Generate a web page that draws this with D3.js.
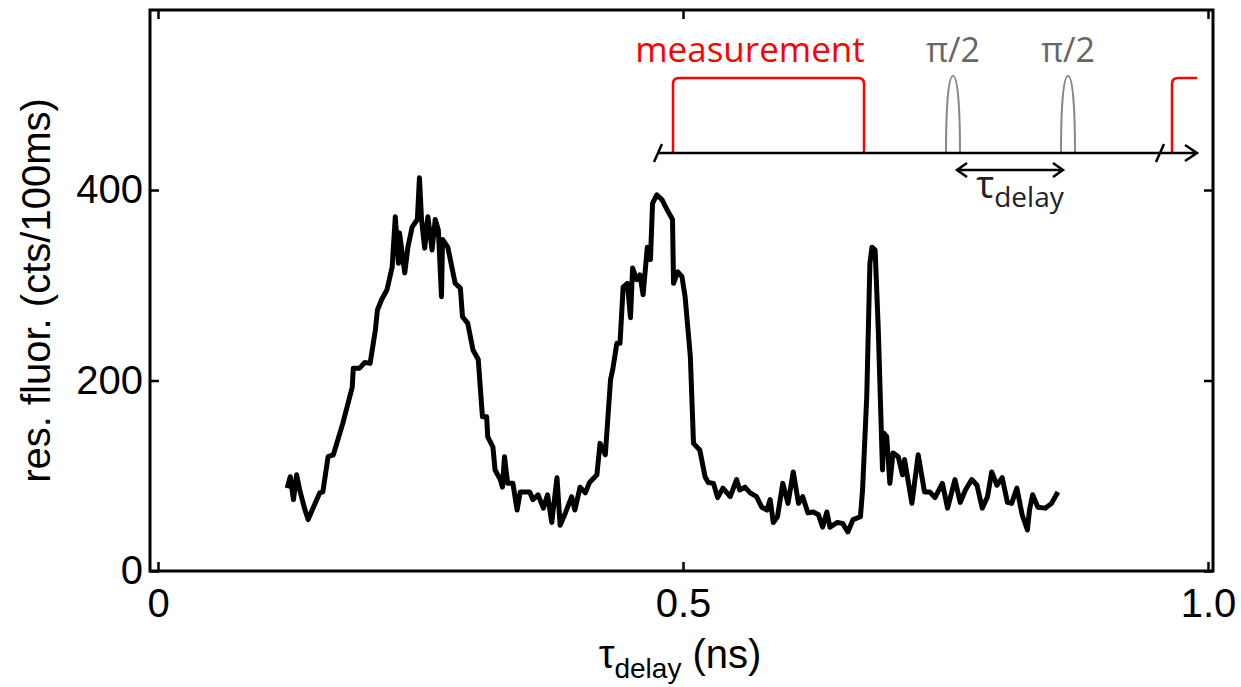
<!DOCTYPE html>
<html>
<head>
<meta charset="utf-8">
<script src="https://cdn.jsdelivr.net/npm/d3@7"></script>
<style>
  body { margin: 0; background: #fff; }
  svg { display: block; }
</style>
</head>
<body>
<div class="chart"></div>
<script>
// fluorescence vs. pulse delay
var delay = [0.123, 0.126, 0.129, 0.132, 0.135, 0.140, 0.143, 0.148, 0.154, 0.157, 0.162, 0.167, 0.176, 0.185, 0.186,
  0.192, 0.197, 0.202, 0.207, 0.209, 0.213, 0.218, 0.223, 0.226, 0.229, 0.230, 0.235, 0.238, 0.242, 0.247,
  0.249, 0.251, 0.254, 0.257, 0.261, 0.264, 0.267, 0.270, 0.271, 0.276, 0.283, 0.288, 0.290, 0.295, 0.300,
  0.305, 0.309, 0.313, 0.314, 0.319, 0.321, 0.326, 0.328, 0.330, 0.333, 0.338, 0.342, 0.345, 0.354, 0.357,
  0.362, 0.367, 0.371, 0.375, 0.380, 0.383, 0.388, 0.394, 0.397, 0.402, 0.407, 0.411, 0.418, 0.421, 0.426,
  0.431, 0.433, 0.437, 0.440, 0.443, 0.447, 0.450, 0.452, 0.456, 0.459, 0.462, 0.466, 0.469, 0.471, 0.475,
  0.480, 0.485, 0.490, 0.491, 0.495, 0.499, 0.502, 0.507, 0.510, 0.516, 0.521, 0.524, 0.529, 0.533, 0.538,
  0.545, 0.551, 0.554, 0.559, 0.564, 0.570, 0.575, 0.580, 0.583, 0.586, 0.590, 0.595, 0.600, 0.605, 0.610,
  0.614, 0.619, 0.624, 0.629, 0.633, 0.637, 0.640, 0.647, 0.652, 0.657, 0.662, 0.669, 0.671, 0.675, 0.678,
  0.680, 0.683, 0.686, 0.690, 0.691, 0.694, 0.697, 0.700, 0.705, 0.709, 0.711, 0.718, 0.724, 0.730, 0.735,
  0.740, 0.747, 0.752, 0.759, 0.764, 0.769, 0.775, 0.780, 0.785, 0.790, 0.794, 0.799, 0.804, 0.809, 0.813,
  0.818, 0.823, 0.828, 0.830, 0.833, 0.838, 0.845, 0.851, 0.857];
var fluor = [87, 99, 75, 101, 85, 64, 54, 67, 82, 83, 120, 122, 155, 193, 213,
  213, 219, 218, 253, 274, 285, 295, 319, 372, 323, 355, 313, 340, 361, 369,
  413, 369, 339, 372, 337, 369, 358, 288, 348, 340, 302, 297, 267, 260, 232,
  222, 162, 162, 141, 130, 106, 96, 88, 120, 92, 92, 64, 83, 83, 75,
  80, 66, 80, 51, 98, 48, 61, 78, 64, 88, 82, 93, 101, 134, 122,
  201, 211, 239, 239, 298, 302, 266, 318, 306, 311, 290, 340, 327, 386, 395,
  390, 379, 369, 302, 314, 309, 288, 225, 134, 127, 99, 93, 92, 77, 87,
  78, 96, 85, 88, 82, 78, 67, 64, 75, 51, 57, 92, 71, 104, 71,
  78, 61, 62, 59, 46, 62, 46, 51, 50, 41, 54, 57, 85, 183, 323,
  340, 337, 253, 106, 145, 141, 92, 124, 120, 101, 117, 71, 122, 83, 83,
  77, 92, 66, 96, 72, 85, 96, 90, 66, 78, 104, 90, 98, 72, 71,
  87, 59, 43, 64, 80, 67, 66, 71, 83];

var xTicks = [0, 0.5, 1.0];
var yTicks = [0, 200, 400];

var svgWidth = 1241;
var svgHeight = 687;
var frame = { left: 150, right: 1213, top: 10, bottom: 571 };

var svg = d3.select('.chart')
  .append('svg')
  .attr('width', svgWidth)
  .attr('height', svgHeight);

var xScale = d3.scaleLinear()
  .domain([0, 1])
  .range([158, 1208]);

var yScale = d3.scaleLinear()
  .domain([0, 589])
  .range([frame.bottom, frame.top]);

var tickFont = '"Liberation Sans", Arial, sans-serif';
var fmtX = function (d) { return d === 0 ? '0' : d.toFixed(1); };

// bottom axis with labels, ticks pointing in
var xAxis = svg.append('g')
  .attr('transform', 'translate(0,' + frame.bottom + ')')
  .call(d3.axisBottom(xScale).tickValues(xTicks).tickFormat(fmtX)
    .tickSizeInner(-9).tickSizeOuter(0).tickPadding(18));

var yAxis = svg.append('g')
  .attr('transform', 'translate(' + frame.left + ',0)')
  .call(d3.axisLeft(yScale).tickValues(yTicks)
    .tickSizeInner(-9).tickSizeOuter(0).tickPadding(7));

// mirrored ticks on top and right
var xTop = svg.append('g')
  .attr('transform', 'translate(0,' + frame.top + ')')
  .call(d3.axisTop(xScale).tickValues(xTicks).tickFormat('')
    .tickSizeInner(-9).tickSizeOuter(0));

var yRight = svg.append('g')
  .attr('transform', 'translate(' + frame.right + ',0)')
  .call(d3.axisRight(yScale).tickValues(yTicks).tickFormat('')
    .tickSizeInner(-9).tickSizeOuter(0));

[xAxis, yAxis, xTop, yRight].forEach(function (g) {
  g.select('.domain').remove();
  g.selectAll('line').attr('stroke', '#000').attr('stroke-width', 2.5);
  g.selectAll('text')
    .attr('fill', '#000')
    .style('font-family', tickFont)
    .style('font-size', '40px');
});

// frame
svg.append('rect')
  .attr('x', frame.left)
  .attr('y', frame.top)
  .attr('width', frame.right - frame.left)
  .attr('height', frame.bottom - frame.top)
  .attr('fill', 'none')
  .attr('stroke', '#000')
  .attr('stroke-width', 3);

// the data trace
var line = d3.line()
  .x(function (d, i) { return xScale(delay[i]); })
  .y(function (d) { return yScale(d); });

svg.append('path')
  .datum(fluor)
  .attr('d', line)
  .attr('fill', 'none')
  .attr('stroke', '#000')
  .attr('stroke-width', 5)
  .attr('stroke-linejoin', 'round');

// axis titles
var xTitle = svg.append('text')
  .attr('x', 680)
  .attr('y', 668)
  .attr('text-anchor', 'middle')
  .style('font-family', tickFont)
  .style('font-size', '40px');
xTitle.append('tspan').text('τ');
xTitle.append('tspan').attr('dy', 10).style('font-size', '28px').text('delay');
xTitle.append('tspan').attr('dy', -10).text(' (ns)');

svg.append('text')
  .attr('transform', 'translate(50,' + ((frame.top + frame.bottom) / 2) + ') rotate(-90)')
  .attr('text-anchor', 'middle')
  .style('font-family', tickFont)
  .style('font-size', '40px')
  .text('res. fluor. (cts/100ms)');

// pulse sequence sketch (schematic, pixel space)
var inset = svg.append('g');
var base = 153, pulseTop = 78;
var insetFont = '"Open Sans", sans-serif';

inset.append('path')
  .attr('d', 'M673,' + base + 'V' + (pulseTop + 6) + 'Q673,' + pulseTop + ' 679,' + pulseTop +
    'H858Q864,' + pulseTop + ' 864,' + (pulseTop + 6) + 'V' + base)
  .attr('fill', 'none').attr('stroke', '#ff0000').attr('stroke-width', 2.5);

inset.append('path')
  .attr('d', 'M1172,' + base + 'V' + (pulseTop + 6) + 'Q1172,' + pulseTop + ' 1178,' + pulseTop + 'H1197')
  .attr('fill', 'none').attr('stroke', '#ff0000').attr('stroke-width', 2.5);

[953, 1068].forEach(function (cx) {
  inset.append('path')
    .attr('d', 'M' + (cx - 7) + ',' + base + 'C' + (cx - 7) + ',110 ' + (cx - 5) + ',' + (pulseTop - 2) + ' ' + cx + ',' + (pulseTop - 2) +
      'C' + (cx + 5) + ',' + (pulseTop - 2) + ' ' + (cx + 7) + ',110 ' + (cx + 7) + ',' + base)
    .attr('fill', 'none').attr('stroke', '#888').attr('stroke-width', 2);
  inset.append('text')
    .attr('x', cx)
    .attr('y', 62)
    .attr('text-anchor', 'middle')
    .attr('fill', '#666')
    .style('font-family', insetFont)
    .style('font-size', '34px')
    .text('π/2');
});

// time axis with breaks and arrow
inset.append('path')
  .attr('d', 'M658,' + base + 'H1197M1185,' + (base - 8) + 'L1197,' + base + 'L1185,' + (base + 8) +
    'M654,' + (base + 9) + 'L662,' + (base - 9) + 'M1156,' + (base + 9) + 'L1164,' + (base - 9))
  .attr('fill', 'none').attr('stroke', '#000').attr('stroke-width', 2.5);

// delay double arrow
inset.append('path')
  .attr('d', 'M957,170H1063M967,163L957,170L967,177M1053,163L1063,170L1053,177')
  .attr('fill', 'none').attr('stroke', '#000').attr('stroke-width', 2.5);

inset.append('text')
  .attr('x', 750)
  .attr('y', 62)
  .attr('text-anchor', 'middle')
  .attr('fill', '#ff0000')
  .style('font-family', insetFont)
  .style('font-size', '35px')
  .text('measurement');

var tauText = inset.append('text')
  .attr('x', 1020)
  .attr('y', 198)
  .attr('text-anchor', 'middle')
  .attr('fill', '#222')
  .style('font-family', insetFont)
  .style('font-size', '38px');
tauText.append('tspan').text('τ');
tauText.append('tspan').attr('dy', 9).style('font-size', '28px').text('delay');
</script>
</body>
</html>
